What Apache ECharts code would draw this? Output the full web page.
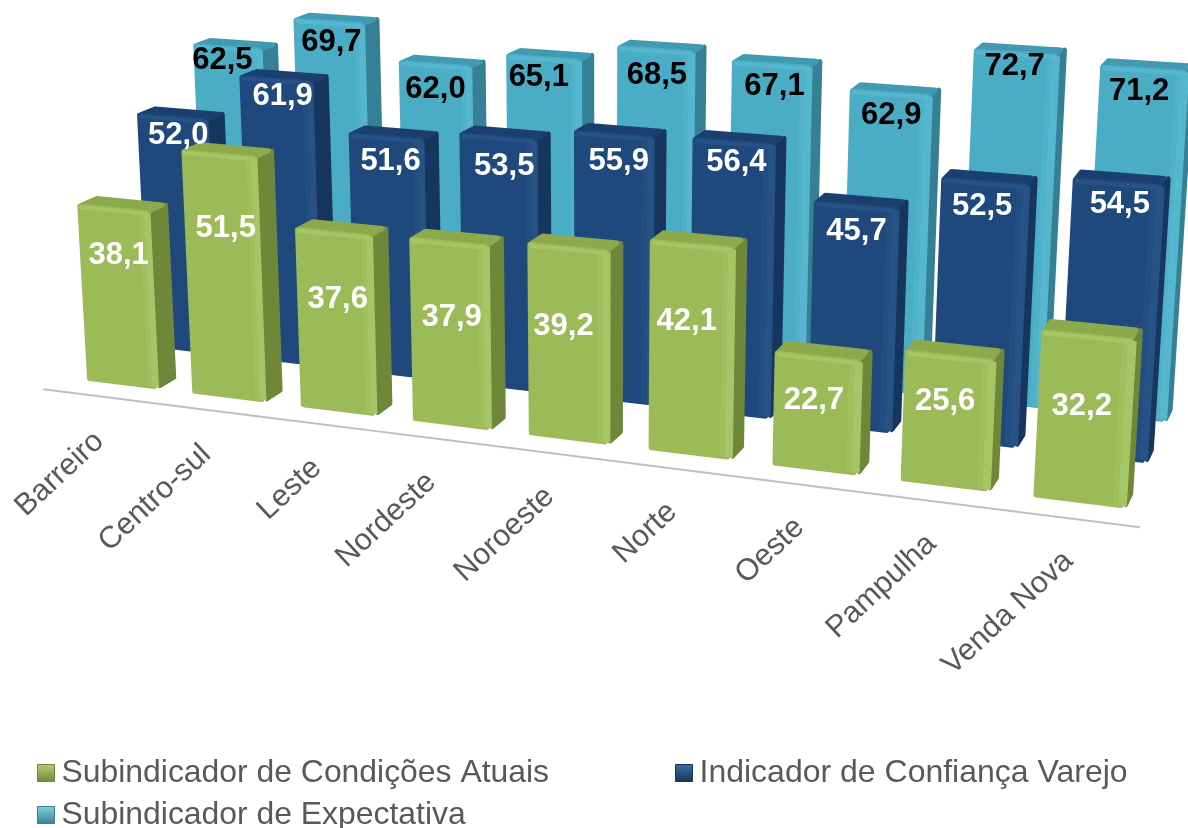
<!DOCTYPE html>
<html><head><meta charset="utf-8">
<style>html,body{margin:0;padding:0;background:#fff}#c{width:1188px;height:828px}</style>
<script src="https://cdn.jsdelivr.net/npm/echarts@6/dist/echarts.min.js"></script></head>
<body><div id="c"></div><script>
const categories=['Barreiro','Centro-sul','Leste','Nordeste','Noroeste','Norte','Oeste','Pampulha','Venda Nova'];
const atuais=[38.1,51.5,37.6,37.9,39.2,42.1,22.7,25.6,32.2];
const confianca=[52.0,61.9,51.6,53.5,55.9,56.4,45.7,52.5,54.5];
const expectativa=[62.5,69.7,62.0,65.1,68.5,67.1,62.9,72.7,71.2];
const names=['Subindicador de Condições Atuais','Indicador de Confiança Varejo','Subindicador de Expectativa'];

const W=1188,H=828,HW=0.34,BD=0.3,VMAX=100;
// perspective camera: world (category, depth row, value) -> screen
const M=[0.41049,0.06820,-0.01524,0.12193, 0.02760,-0.01929,-0.23794,0.38444, -0.06266,0.04344,-0.02548];
function project(X,Y,Z){const x=X/4,y=Y,z=Z/50,w=M[8]*x+M[9]*y+M[10]*z+1;
 return [(M[0]*x+M[1]*y+M[2]*z+M[3])/w*1000,(M[4]*x+M[5]*y+M[6]*z+M[7])/w*1000];}

const palette=[
 {front:'#9BBB59',side:'#6F8739',top:'#8CA94C',edge:'#A6C564',mid:'#A0C05E',light:'#B4CF78',label:'#fff'},
 {front:'#1F497D',side:'#17365E',top:'#1B3F6E',edge:'#275285',mid:'#234E81',light:'#3A6DA5',label:'#fff'},
 {front:'#4BACC6',side:'#368095',top:'#429AB2',edge:'#56B6CE',mid:'#50B1CA',light:'#84D0E2',label:'#000'}];
const labelDrop=[8.5,4,3];
// label placement nudges, in pixels
const labelNudge=[
 [[4,8],[6,34],[4,27],[3,35],[-4,38],[-4,35],[-2,2],[-2,3],[-3,28]],
 [[6,1],[7,0],[5,7],[7,12],[6,9],[4,2],[2,7],[-1,6],[4,3]],
 [[-5,1],[3,8],[1,13],[-4,7],[2,13],[4,9],[2,9],[0,0],[-3,9]]];
function world(api,idx,val){const c=api.coord([idx,val]);const band=api.size([1,0])[0];const unit=api.size([0,1])[1];
 return {X:c[0]/band-0.5,Z:(H-c[1])/unit};}
function poly(pts,fill,stroke,lw){return {type:'polygon',shape:{points:pts},style:{fill,stroke:stroke||null,lineWidth:lw||0,lineJoin:'round'}};}
const grad=(x,y,a,b)=>new echarts.graphic.LinearGradient(0,0,x,y,[{offset:0,color:a},{offset:1,color:b}]);
function renderBar(d){return function(params,api){
 const idx=api.value(0),val=api.value(1),t=world(api,idx,val),X=t.X,Z=t.Z,c=palette[d];
 const p=(x,y,z)=>project(X+x,d+y,z);
 const ix=0.03,iy=0.035,iz=0.45,h=HW-ix,lo=iz,hi=Z-iz;
 const strip=(a,b,col)=>poly([p(a,0,hi),p(b,0,hi),p(b,0,lo),p(a,0,lo)],col);
 const kids=[
  poly([p(HW,iy,hi),p(HW,BD-iy,hi),p(HW,BD-iy,lo),p(HW,iy,lo)],c.side,c.side,5),
  poly([p(-h,iy,hi),p(h,iy,hi),p(h,BD-iy,hi),p(-h,BD-iy,hi)],c.top,c.top,5),
  poly([p(-h,0,hi),p(h,0,hi),p(h,0,lo),p(-h,0,lo)],c.front,c.front,5),
  strip(HW-0.09,HW-0.05,c.mid),
  strip(HW-0.05,HW+0.014,c.edge),
  poly([p(-h,0,Z-1.1),p(HW-0.012,0,Z-1.1),p(HW-0.012,0,Z-0.25),p(-h,0,Z-0.25)],c.edge),
 ];
 const l=project(X,d,Z-labelDrop[d]),n=labelNudge[d][idx];
 kids.push({type:'text',z2:100,x:l[0]+n[0],y:l[1]+n[1],style:{text:val.toFixed(1).replace('.',','),fill:c.label,font:'bold 31px "Liberation Sans"',textAlign:'center',textVerticalAlign:'middle'}});
 return {type:'group',children:kids};
};}
function renderAxis(params,api){
 const idx=api.value(0),t=world(api,idx,0),kids=[];
 const lab=project(t.X+0.1,-0.75,0);
 kids.push({type:'text',x:lab[0]+5-2.5*idx,y:lab[1]+12-idx,rotation:0.75,style:{text:categories[idx],fill:'#595959',font:'30.5px "Liberation Sans"',textAlign:'right',textVerticalAlign:'top'}});
 const a=project(t.X-(idx===0?0.55:0.5),-0.33,0),b=project(t.X+0.5,-0.33,0);
 kids.push({type:'line',shape:{x1:a[0],y1:a[1],x2:b[0],y2:b[1]},style:{stroke:'#BFBFBF',lineWidth:2}});
 return {type:'group',children:kids};
}
function legendAt(n,left,top,c,fs){return {icon:'rect',data:[{name:n,itemStyle:{color:grad(0,1,c.light,c.side),borderColor:c.side,borderWidth:1,borderJoin:'miter'}}],left,top,padding:0,itemWidth:17,itemHeight:17,
 textStyle:{fontSize:fs,color:'#595959',fontFamily:'Liberation Sans',padding:[0,0,0,2]}};}
const chart=echarts.init(document.getElementById('c'),null,{renderer:'canvas'});
function idxData(a){return a.map((v,i)=>[i,v]);}
chart.setOption({animation:false,
 grid:{left:0,right:0,top:0,bottom:0},
 xAxis:{type:'category',data:categories,show:false},
 yAxis:{type:'value',min:0,max:VMAX,show:false},
 legend:[legendAt(names[0],37,757,palette[0],31.9),legendAt(names[1],675,757,palette[1],32),legendAt(names[2],37,799,palette[2],31.9)],
 series:[
  {type:'custom',name:'axis',renderItem:renderAxis,data:categories.map((c,i)=>[i,0]),encode:{x:0,y:1},silent:true},
  {type:'custom',name:names[2],color:palette[2].front,renderItem:renderBar(2),data:idxData(expectativa),encode:{x:0,y:1}},
  {type:'custom',name:names[1],color:palette[1].front,renderItem:renderBar(1),data:idxData(confianca),encode:{x:0,y:1}},
  {type:'custom',name:names[0],color:palette[0].front,renderItem:renderBar(0),data:idxData(atuais),encode:{x:0,y:1}}
 ]});
</script></body></html>
